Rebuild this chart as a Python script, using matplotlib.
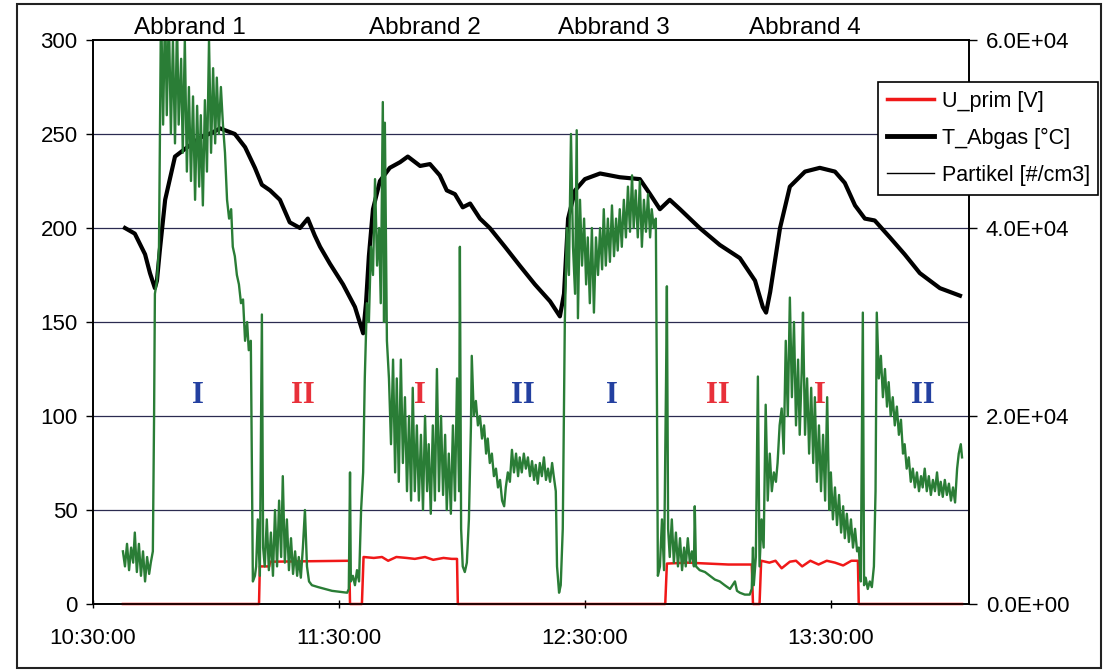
import numpy as np
import matplotlib.pyplot as plt
from matplotlib.lines import Line2D
from matplotlib.patches import Rectangle
from matplotlib.transforms import blended_transform_factory

plt.rcParams['font.family'] = ['Liberation Sans', 'DejaVu Sans']

# time axis: minutes after 10:30:00
tick_pos = [0, 60, 120, 180]
tick_labels = ['10:30:00', '11:30:00', '12:30:00', '13:30:00']

# exhaust gas temperature [°C]
t_abgas_t = [7.8, 10.2, 12.7, 13.9, 15.1, 15.6, 16.3, 17.6, 20.0, 22.4, 26.1, 29.3, 31.0,
             34.6, 37.1, 39.5, 41.2, 43.2, 45.6, 48.0, 50.5, 52.4, 54.1, 55.4, 57.8, 61.0,
             63.9, 65.9, 66.6, 67.3, 68.3, 70.0, 72.4, 74.9, 76.8, 79.8, 82.2, 84.6, 86.3,
             88.3, 90.2, 92.0, 94.4, 96.8, 100.5, 104.1, 107.8, 111.5, 113.9, 114.9, 115.9,
             117.6, 120.0, 123.7, 128.5, 133.4, 135.9, 138.3, 140.7, 143.2, 148.0, 152.9,
             157.8, 161.5, 163.4, 164.2, 165.2, 167.6, 170.0, 173.7, 177.3, 181.0, 183.4,
             185.9, 188.3, 190.7, 194.4, 198.0, 201.7, 206.6, 211.5]
t_abgas = [200, 197, 186, 176, 168, 172, 188, 215, 238, 242, 248, 251, 253,
           250, 243, 232, 223, 220, 215, 203, 200, 205, 196, 190, 181, 170,
           158, 144, 160, 185, 210, 225, 232, 235, 238, 233, 234, 228, 220,
           218, 211, 213, 205, 200, 190, 180, 170, 161, 153, 165, 205,
           220, 226, 229, 227, 226, 218, 210, 215, 210, 200, 191,
           184, 172, 158, 155, 166, 200, 222, 230, 232, 230, 224,
           212, 205, 204, 195, 186, 176, 168, 164]

# primary voltage [V]
u_prim_t = [7.3, 40.5, 40.7, 43.0, 43.2, 62.5, 62.7, 65.6, 66.0, 68.5, 70.5, 72.0, 74.0,
            76.5, 78.5, 81.0, 83.0, 85.5, 87.5, 88.8, 89.0, 139.6, 140.0, 145.0, 150.0,
            155.0, 160.7, 161.0, 162.6, 163.0, 165.0, 166.5, 168.0, 170.0, 171.5, 173.0,
            175.0, 177.0, 179.0, 181.0, 183.0, 185.0, 186.6, 186.8, 212.0]
u_prim = [0, 0, 20, 20, 22.5, 23, 0, 0, 25, 24.5, 25, 23, 25,
          24.5, 24, 25, 23.5, 24.5, 24, 24, 0, 0, 21.5, 22, 21.5,
          21, 21, 0, 0, 23, 22, 23, 19, 22.5, 23, 20,
          23, 21, 23, 22, 20.5, 23, 23, 0, 0]

# particle number concentration [1000 #/cm3]
part_t1 = [7.3, 7.8, 8.3, 8.8, 9.3, 9.8, 10.2, 10.7, 11.2, 11.7, 12.2, 12.7, 13.2, 13.7,
           14.1, 14.6, 14.9, 15.1, 15.6, 16.1, 16.6, 17.1, 17.6, 18.0, 18.5, 19.0, 19.5,
           20.0, 20.5, 20.9, 21.5, 21.9, 22.4, 22.9, 23.4, 23.9, 24.4, 24.9, 25.4, 25.9,
           26.3, 26.8, 27.3, 27.8, 28.3, 28.8, 29.3, 29.8, 30.2, 30.7, 31.2, 31.7, 32.2,
           32.7, 33.2, 33.7, 34.1, 34.6, 35.1, 35.6, 36.1, 36.6, 37.1, 37.6, 38.0, 38.5,
           38.8, 39.0, 39.5, 39.8, 40.2, 40.7, 41.2, 41.5, 41.9, 42.4, 42.9, 43.4, 43.9,
           44.4, 44.9, 45.4, 45.9, 46.3, 46.8, 47.3, 47.8, 48.3, 48.8, 49.3, 49.8, 50.2,
           50.7, 51.2, 51.7, 52.2, 52.7, 53.4, 54.9, 56.6, 58.3, 60.2, 62.0, 62.4]
part_k1 = [5.6, 4.0, 6.4, 3.6, 6.0, 4.4, 7.6, 3.4, 6.4, 3.0, 5.6, 2.4, 5.0, 3.2,
           4.4, 5.6, 20, 33, 34.4, 38, 64, 51, 64, 52, 63, 50, 60,
           49, 62, 51, 58, 48, 60, 46, 55, 45, 54, 43, 53, 44.4,
           52, 42.4, 53.6, 46, 60, 48, 57, 49, 56, 50, 55, 51, 48,
           43, 41, 42, 38, 37, 35, 34, 32, 32.4, 28, 30, 27, 28,
           12, 2.4, 3.0, 4.0, 9.0, 3.0, 30.8, 6.0, 4.0, 9.0, 3.6, 7.6, 3.0,
           10, 4.0, 11, 5.0, 13.6, 4.4, 9.0, 3.6, 7.0, 3.2, 5.6, 3.0, 5.0,
           2.8, 6.0, 10, 4.0, 2.4, 2.0, 1.8, 1.6, 1.4, 1.3, 1.2, 1.6]

part_t2 = [62.7, 62.9, 63.4, 63.9, 64.4, 64.9, 65.4, 65.9, 66.3, 66.8, 67.3, 67.8, 68.3,
           68.8, 69.3, 69.8, 70.2, 70.7, 71.0, 71.2, 71.7, 72.2, 72.7, 73.2, 73.7, 74.1,
           74.6, 75.1, 75.6, 76.1, 76.6, 77.1, 77.6, 78.0, 78.5, 79.0, 79.5, 80.0, 80.5,
           81.0, 81.5, 81.9, 82.4, 82.9, 83.4, 83.9, 84.4, 84.9, 85.4, 85.9, 86.3, 86.8,
           87.3, 87.8, 88.3, 88.8, 89.3, 89.5, 89.8, 90.2, 90.7, 91.2, 91.7, 92.2, 92.4,
           92.9, 93.4, 93.9, 94.4, 94.9, 95.4, 95.9, 96.3, 96.8, 97.3, 97.8, 98.3, 98.8,
           99.3, 99.8, 100.3, 100.7, 101.2, 101.7, 102.2, 102.7, 103.2, 103.7, 104.1,
           104.6, 105.1, 105.6, 106.1, 106.6, 107.1, 107.6, 108.0, 108.5, 109.0, 109.5,
           110.0, 110.5, 111.0, 111.5, 112.0, 112.4, 112.9, 113.2]
part_k2 = [14, 2.4, 3.0, 2.0, 3.6, 2.4, 10, 14, 24, 32, 30, 38, 35,
           45.2, 36, 40, 32, 53.4, 30, 51.2, 28, 24, 17, 26, 14, 24,
           13, 26, 15, 22, 12, 20, 11, 23, 12, 19, 11, 18, 10,
           20, 12, 17, 9.6, 19, 11, 25, 12, 20, 11.6, 18, 10, 16,
           9.6, 19, 11, 24, 12, 38, 8, 4, 3.4, 4.4, 9, 19, 26.4,
           20, 21.6, 19, 20, 17.6, 19, 16, 17.6, 15, 16, 13.6, 14.4, 12.4,
           13.2, 11, 10.4, 12.4, 14, 13, 16.4, 14, 16, 13.6, 15.6,
           14, 16, 14.4, 15.6, 13.6, 15.2, 13.2, 14.8, 12.8, 15, 13.6,
           15.6, 13.2, 14.4, 13, 15, 13.6, 12, 4]

part_t3 = [113.7, 114.1, 114.6, 115.1, 115.6, 116.1, 116.6, 117.1, 117.6, 118.0, 118.3,
           118.8, 119.3, 119.8, 120.3, 120.7, 121.2, 121.7, 122.2, 122.7, 123.2, 123.7,
           124.2, 124.6, 125.1, 125.6, 126.1, 126.6, 127.1, 127.6, 128.0, 128.5, 129.0,
           129.5, 130.0, 130.5, 131.0, 131.5, 131.9, 132.4, 132.9, 133.4, 133.9, 134.4,
           134.9, 135.4, 135.9, 136.3, 136.8, 137.3, 137.6, 137.8, 138.3, 138.8, 139.3,
           139.8, 140.0, 140.3, 140.7, 141.2, 141.7, 142.2, 142.7, 143.2, 143.7, 144.2,
           144.6, 145.1, 145.6, 146.1, 146.6, 146.8, 147.1, 148.0, 149.3, 150.5, 151.7,
           152.9, 154.1, 155.4, 156.6, 157.1, 157.8, 159.0, 160.2, 160.7, 161.0]
part_k3 = [1.2, 2, 8, 30, 40, 35, 50, 38, 33, 50.4, 30.4,
           43, 36, 41, 34, 39, 32, 40, 31, 39, 35, 40,
           35.6, 42, 36, 41, 36.4, 42.4, 37, 41, 37.6, 42, 38,
           43, 39, 44.4, 39.6, 45.6, 40, 44, 39, 45, 38, 43,
           39.6, 43.6, 39, 42, 40, 41, 20, 3, 4, 9, 3.6,
           24, 33.8, 8, 5, 9, 4.4, 7.6, 4, 7, 3.6, 6,
           4, 7, 4.4, 5.6, 4, 10.4, 4, 3.6, 3.4, 3, 2.6,
           2.4, 2, 1.6, 2.4, 1.4, 1.2, 1, 1, 1.6, 6]

part_t4 = [161.2, 161.7, 162.2, 162.6, 163.1, 163.6, 164.1, 164.6, 165.1, 165.6, 166.1,
           166.6, 167.0, 167.5, 168.0, 168.5, 169.0, 169.5, 170.0, 170.5, 171.0, 171.5,
           172.0, 172.4, 172.9, 173.2, 173.7, 174.2, 174.7, 175.2, 175.7, 176.1, 176.6,
           177.1, 177.6, 178.1, 178.6, 179.1, 179.6, 180.0, 180.5, 181.0, 181.5, 182.0,
           182.5, 183.0, 183.4, 183.9, 184.4, 184.9, 185.4, 185.9, 186.4, 186.8, 187.3,
           187.8, 188.1, 188.5, 189.0, 189.5, 190.0, 190.5, 190.9, 191.2, 191.7, 192.2,
           192.7, 193.2, 193.7, 194.1, 194.6, 195.1, 195.6, 196.1, 196.6, 197.1, 197.6,
           198.0, 198.5, 199.0, 199.5, 200.0, 200.5, 201.0, 201.5, 202.0, 202.4, 202.9,
           203.4, 203.9, 204.4, 204.9, 205.4, 205.9, 206.4, 206.8, 207.3, 207.8, 208.3,
           208.8, 209.3, 209.8, 210.3, 210.8, 211.2, 211.7, 212.0]
part_k4 = [2, 5, 24.2, 4, 9, 6, 21.2, 11, 16, 12, 14,
           13, 15, 19, 20.8, 16, 28, 20, 32.6, 22, 30, 19,
           26, 18, 25, 31, 18, 24, 16, 23, 15, 22, 13,
           19, 12, 18, 11, 22, 10, 14, 9, 12.4, 8.4, 11.6,
           7.6, 10.4, 7, 9.6, 6.6, 9, 6, 8, 5.6, 6, 2.4,
           31, 2, 2.8, 1.6, 2.4, 1.8, 4, 12, 31, 24, 26.4,
           22, 25, 21, 23.6, 20, 22, 19, 21, 18, 19.6, 16,
           17, 14.4, 15.6, 13, 14.4, 12.4, 14, 12, 13.6, 12.4, 14.4,
           12, 13.6, 11.6, 13.2, 12, 14, 11.6, 13, 11.4, 13.2, 11.6,
           12.8, 11, 12.4, 10.8, 14.4, 16, 17, 15.6]

burn_labels = ['Abbrand 1', 'Abbrand 2', 'Abbrand 3', 'Abbrand 4']
burn_label_t = [23.7, 81.0, 127.1, 173.7]

phase_labels = ['I', 'II', 'I', 'II', 'I', 'II', 'I', 'II']
phase_t = [25.6, 51.2, 79.8, 104.9, 126.6, 152.4, 177.3, 202.4]
phase_colors = ['#2340a0', '#e8303a', '#e8303a', '#2340a0',
                '#2340a0', '#e8303a', '#e8303a', '#2340a0']

part_t = part_t1 + part_t2 + part_t3 + part_t4
part = np.array(part_k1 + part_k2 + part_k3 + part_k4) * 1000

fig = plt.figure(figsize=(11.05, 6.72), dpi=100)
ax = fig.add_axes([93 / 1105, 1 - 604 / 672, 876 / 1105, 564 / 672])
ax2 = ax.twinx()

# outer chart frame
fig.patches.append(Rectangle((17 / 1105, 4 / 672), 1084 / 1105, 664 / 672,
                             transform=fig.transFigure, fill=False,
                             edgecolor='#222222', lw=1.5))

for yv in [50, 100, 150, 200, 250]:
    ax.axhline(yv, color='#2b2b50', lw=0.9, zorder=1)

ax.plot(u_prim_t, u_prim, color='#f01818', lw=1.8, zorder=3, clip_on=False)
ax.plot(t_abgas_t, t_abgas, color='black', lw=3, zorder=3)
ax2.plot(part_t, part, color='#2a7d36', lw=1.7, zorder=2)

ax.set_xlim(0, 213.7)
ax.set_ylim(0, 300)
ax2.set_ylim(0, 60000)

ax.set_yticks([0, 50, 100, 150, 200, 250, 300])
ax.set_xticks(tick_pos)
ax.set_xticklabels(tick_labels)
ax2.set_yticks([0, 20000, 40000, 60000])
ax2.set_yticklabels(['0.0E+00', '2.0E+04', '4.0E+04', '6.0E+04'])

ax.tick_params(axis='y', direction='out', length=5, width=1, labelsize=16, pad=6)
ax.tick_params(axis='x', direction='inout', length=6, width=1, labelsize=16, pad=14)
ax2.tick_params(axis='y', direction='out', length=6, width=1, labelsize=16, pad=6)

for a in (ax, ax2):
    for s in a.spines.values():
        s.set_color('black')
        s.set_linewidth(1.2)

tr = blended_transform_factory(ax.transData, ax.transAxes)
for lab, t in zip(burn_labels, burn_label_t):
    ax.text(t, 1.021, lab, transform=tr, ha='center', va='center', fontsize=17.5)

for lab, t, c in zip(phase_labels, phase_t, phase_colors):
    ax.text(t, 111, lab, ha='center', va='center', fontsize=22, color=c,
            fontweight='bold', family=['Liberation Serif', 'DejaVu Serif'], zorder=4)

handles = [Line2D([], [], color='#f01818', lw=2.5),
           Line2D([], [], color='black', lw=3.5),
           Line2D([], [], color='black', lw=1)]
leg = fig.legend(handles, ['U_prim [V]', 'T_Abgas [°C]', 'Partikel [#/cm3]'],
                 loc='upper left', bbox_to_anchor=(878 / 1105, 1 - 82 / 672),
                 fontsize=15.5, frameon=True, fancybox=False, framealpha=1,
                 edgecolor='black', handlelength=2.2, labelspacing=0.75,
                 borderpad=0.4, handletextpad=0.35, borderaxespad=0)
leg.get_frame().set_linewidth(1.2)

fig.savefig('out.png', dpi=100, facecolor='white')
